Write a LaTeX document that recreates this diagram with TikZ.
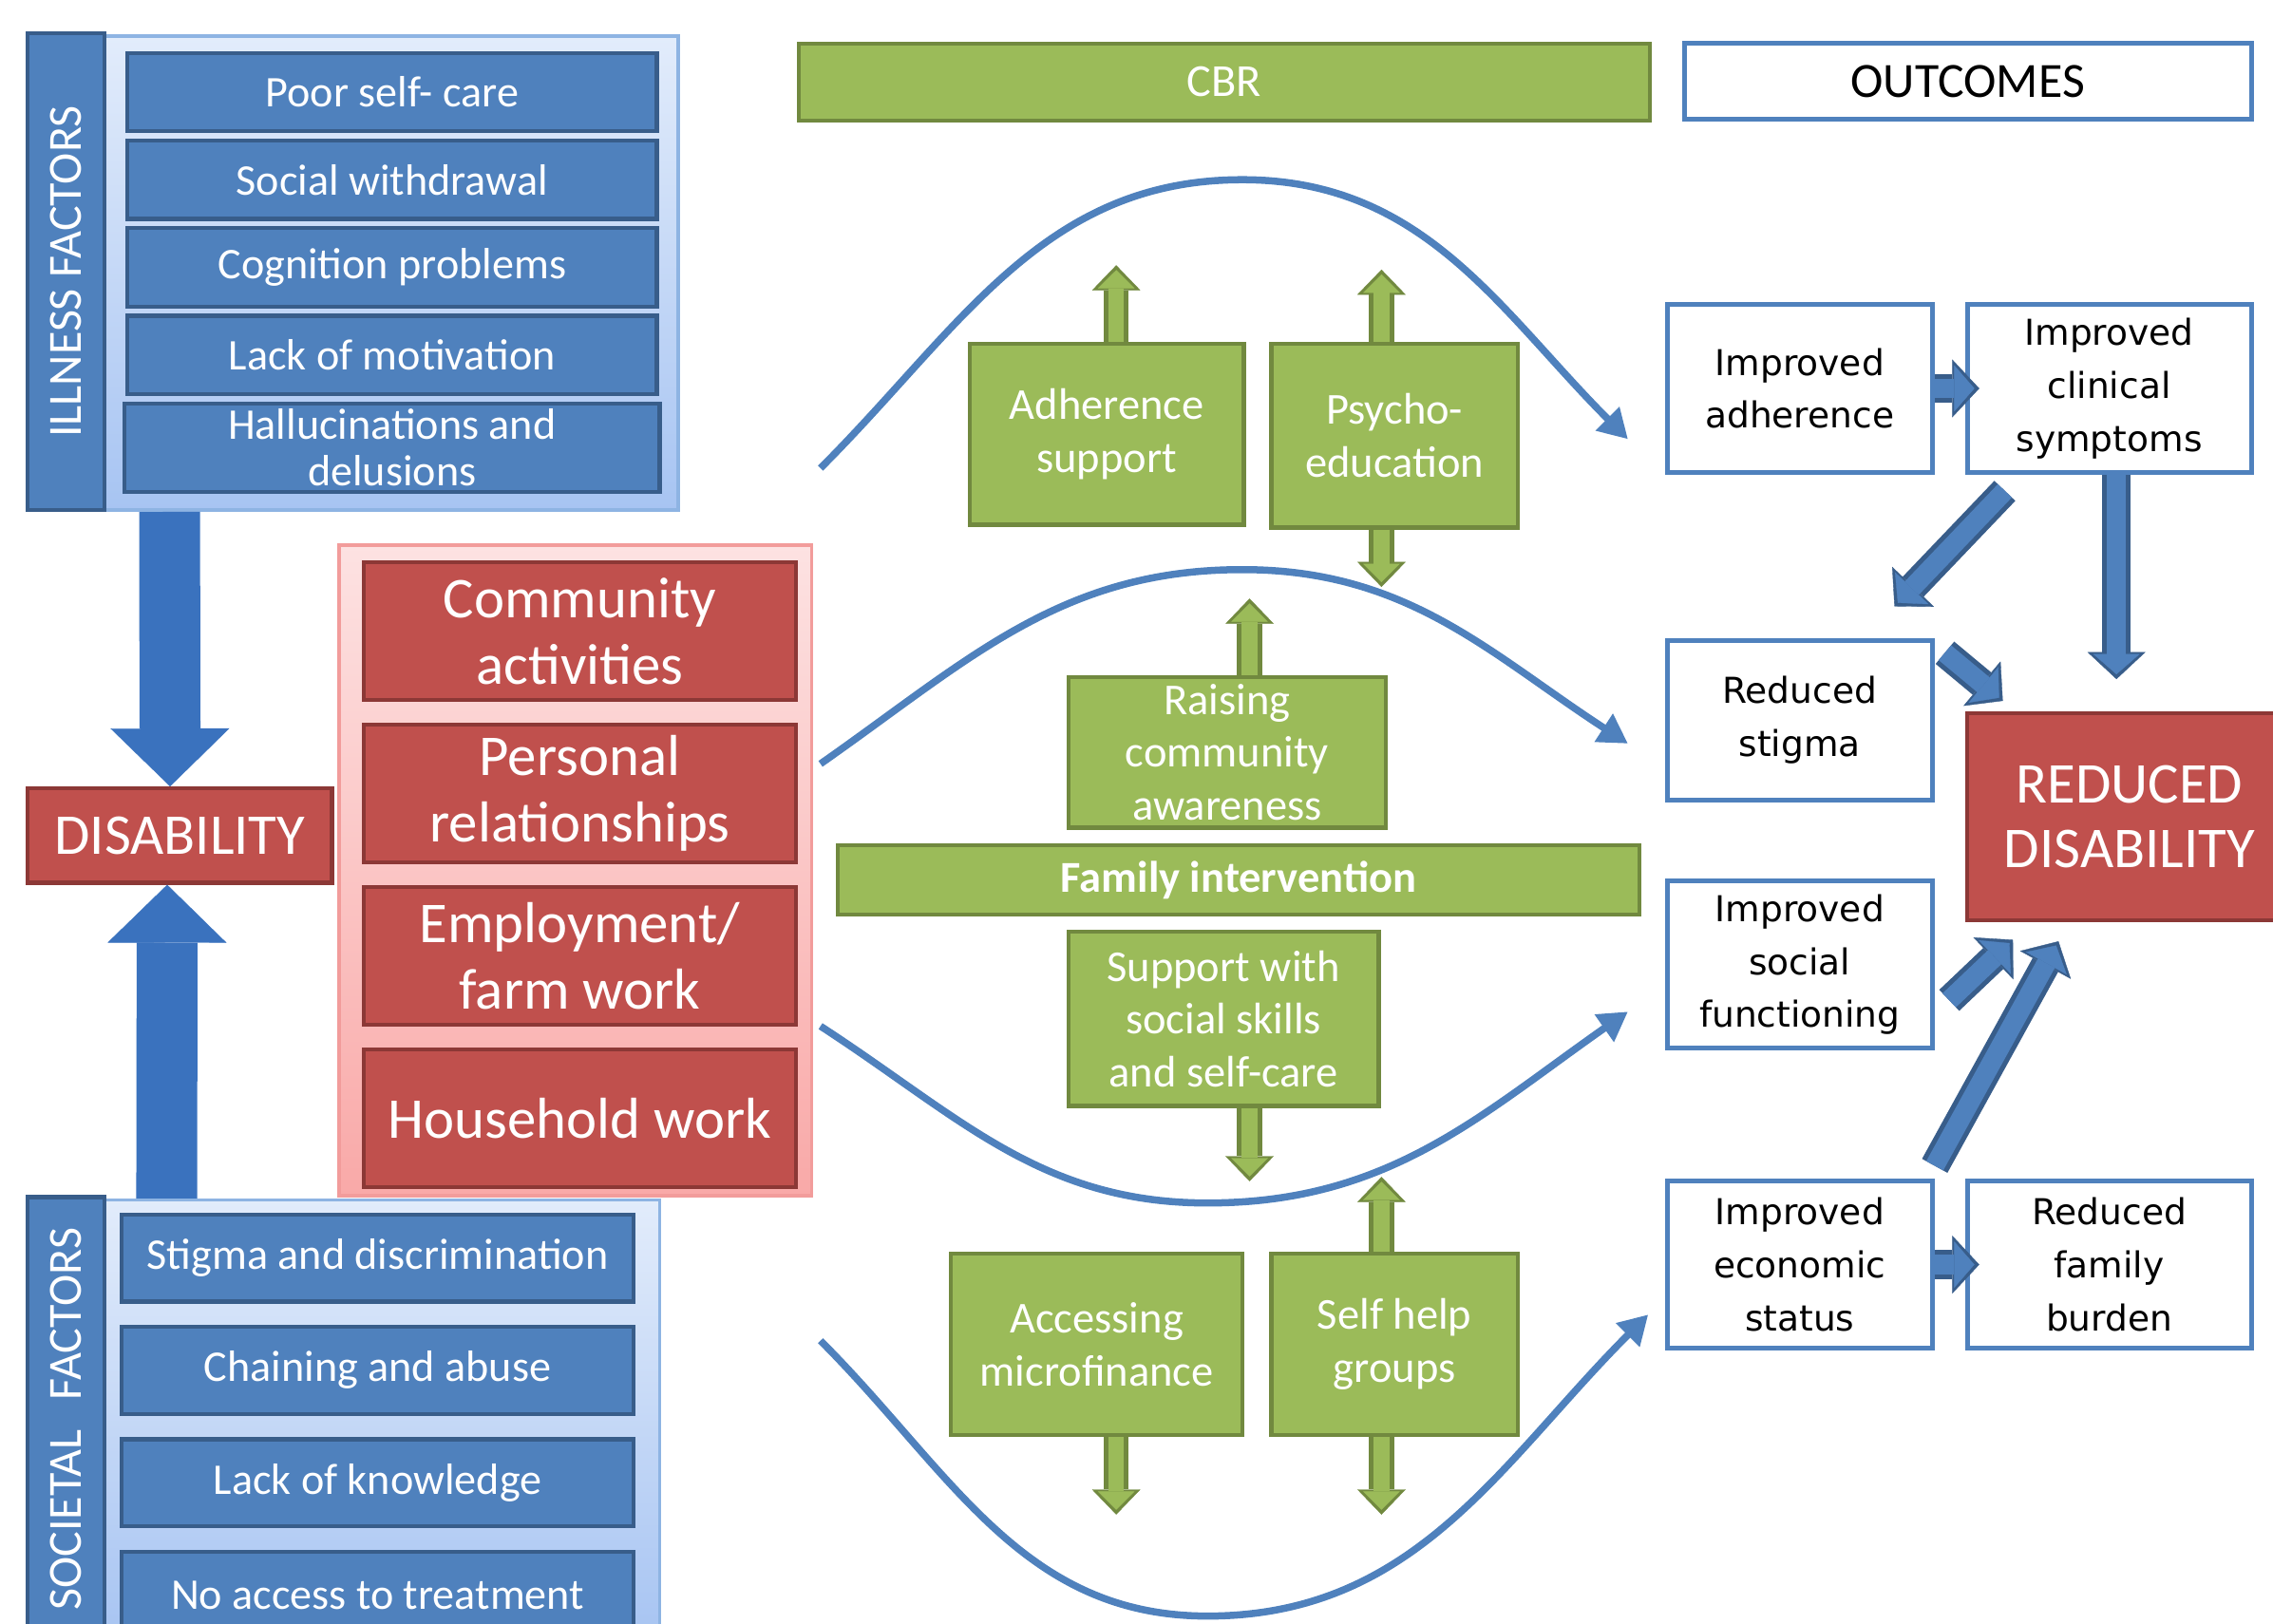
\documentclass[tikz,border=0pt]{standalone}
\usepackage{fontspec}
\setmainfont{Carlito}
\newfontfamily\outfont{DejaVu Sans}
\usetikzlibrary{positioning,arrows.meta}

\definecolor{bluefill}{HTML}{4F81BD}
\definecolor{blueline}{HTML}{385D8A}
\definecolor{redfill}{HTML}{C0504D}
\definecolor{redline}{HTML}{8C3836}
\definecolor{greenfill}{HTML}{9BBB59}
\definecolor{greenline}{HTML}{71893F}
\definecolor{paneltop}{HTML}{E2ECFB}
\definecolor{panelbottom}{HTML}{A7C4F2}
\definecolor{panelline}{HTML}{8EB4E3}
\definecolor{pinktop}{HTML}{FDE2E2}
\definecolor{pinkbottom}{HTML}{F9A9A8}
\definecolor{pinkline}{HTML}{F29C9B}
\definecolor{bigblue}{HTML}{3A72BE}

\begin{document}
\begin{tikzpicture}
		[x=0.015cm,y=0.015cm,
		panel/.style={rectangle,draw=panelline,line width=1pt,top color=paneltop,bottom color=panelbottom},
		sidebar/.style={rectangle,draw=blueline,fill=bluefill,line width=1.2pt,text=white,rotate=90,inner sep=0pt,minimum height=0.795cm,font=\fontsize{14}{16}\selectfont},
		factor/.style={rectangle,draw=blueline,fill=bluefill,line width=1.2pt,text=white,align=center,inner sep=0pt,minimum width=5.475cm,minimum height=0.81cm,font=\fontsize{12.9}{15.4}\selectfont},
		societal/.style={factor,minimum width=5.295cm,minimum height=0.9cm},
		activity/.style={rectangle,draw=redline,fill=redfill,line width=1.2pt,text=white,align=center,inner sep=1pt,minimum width=4.47cm,minimum height=1.425cm,font=\fontsize{17}{19.6}\selectfont},
		intervention/.style={rectangle,draw=greenline,fill=greenfill,line width=1.2pt,text=white,align=center,inner sep=1pt,font=\fontsize{13}{15.6}\selectfont},
		outcome/.style={rectangle,draw=bluefill,fill=white,line width=1.4pt,align=center,inner sep=1pt,minimum width=2.745cm,font=\outfont\fontsize{10.5}{15.6}\selectfont},
		curve/.style={draw=bluefill,line width=2.1pt,-{Triangle[length=0.3cm,width=0.33cm]}},
		bigarrow/.style={draw=bigblue,line width=0.63cm,-{Triangle[length=0.6cm,width=1.23cm,line width=0.1pt]}},
		blockarrow/.style={draw=blueline,line width=0.3cm,-{Triangle[length=0.28cm,width=0.6cm,line width=0.1pt]},
			postaction={draw=bluefill,line width=0.2cm,shorten >=0.05cm,-{Triangle[length=0.21cm,width=0.48cm,line width=0.1pt]}}},
		garrow/.style={draw=greenline,line width=0.26cm,-{Triangle[length=0.26cm,width=0.5cm,line width=0.1pt]},
			postaction={draw=greenfill,line width=0.16cm,shorten >=0.05cm,-{Triangle[length=0.19cm,width=0.38cm,line width=0.1pt]}}}]

		\useasboundingbox (0,0) rectangle (1568,1120);
		\clip (0,0) rectangle (1568,1120);

		% illness factors
		\node [panel,minimum width=5.94cm,minimum height=4.905cm] (illpanel) at (270,931.5) {};
		\node [sidebar,minimum width=4.935cm] (illbar) at (45.5,932.5) {ILLNESS FACTORS};
		\node [factor] (b1) at (270.5,1056.5) {Poor self- care};
		\node [factor] (b2) [below=0.055cm of b1] {Social withdrawal};
		\node [factor] (b3) [below=0.055cm of b2] {Cognition problems};
		\node [factor] (b4) [below=0.055cm of b3] {Lack of motivation};
		\node [factor,minimum width=5.535cm,minimum height=0.915cm,font=\fontsize{12.9}{13.6}\selectfont] (b5) [below=0.055cm of b4] {Hallucinations and\\delusions};

		% societal factors
		\node [panel,minimum width=5.745cm,minimum height=4.56cm] (socpanel) at (263.5,140) {};
		\node [sidebar,minimum width=4.59cm] (socbar) at (45.5,141) {SOCIETAL\hspace{0.4em} FACTORS};
		\node [societal] (s1) at (260.5,252) {Stigma and discrimination};
		\node [societal] (s2) [below=0.22cm of s1] {Chaining and abuse};
		\node [societal] (s3) [below=0.22cm of s2] {Lack of knowledge};
		\node [societal] (s4) [below=0.22cm of s3] {No access to treatment};

		% disability
		\node [activity,minimum width=3.15cm,minimum height=0.975cm] (dis) at (124,543.5) {DISABILITY};
		\draw [bigarrow] (illpanel.south -| dis.north) ++(-7,0) -- ([xshift=-0.1cm]dis.north);
		\draw [bigarrow] (socpanel.north -| dis.south) ++(-9,0) -- ([xshift=-0.13cm]dis.south);

		% activities
		\node [panel,draw=pinkline,top color=pinktop,bottom color=pinkbottom,minimum width=4.89cm,minimum height=6.735cm] (actpanel) at (397,519.5) {};
		\node [activity] (r1) at (400,684.5) {Community\\activities};
		\node [activity] (r2) [below=0.213cm of r1] {Personal\\relationships};
		\node [activity] (r3) [below=0.213cm of r2] {Employment/\\farm work};
		\node [activity] (r4) [below=0.213cm of r3] {Household work};

		% CBR
		\node [intervention,minimum width=8.805cm,minimum height=0.795cm,font=\fontsize{13.5}{16}\selectfont] (cbr) at (844.5,1063.5) {CBR};
		\node [intervention,minimum width=2.835cm,minimum height=1.875cm] (adh) at (763.5,820.5) {Adherence\\support};
		\node [intervention,minimum width=2.55cm,minimum height=1.905cm] (psy) at (962,819.5) {Psycho-\\education};
		\node [intervention,minimum width=3.285cm,minimum height=1.56cm] (raise) at (846.5,601) {Raising\\community\\awareness};
		\node [intervention,minimum width=8.295cm,minimum height=0.72cm,font=\bfseries\fontsize{13}{15.6}\selectfont] (fam) at (854.5,513) {Family intervention};
		\node [intervention,minimum width=3.21cm,minimum height=1.8cm] (sup) at (844,417) {Support with\\social skills\\and self-care};
		\node [intervention,minimum width=3.015cm,minimum height=1.875cm] (micro) at (756.5,192.5) {Accessing\\microfinance};
		\node [intervention,minimum width=2.55cm,minimum height=1.875cm] (shg) at (962,192.5) {Self help\\groups};

		\coordinate (adhup) at (770,937);
		\coordinate (psyup) at (953,934);
		\coordinate (psydown) at (953,715);
		\coordinate (raiseup) at (862,707);
		\coordinate (supdown) at (862,305);
		\coordinate (microdown) at (770,75);
		\coordinate (shgup) at (953,308);
		\coordinate (shgdown) at (953,75);
		\draw [garrow] (adh.north -| adhup) -- (adhup);
		\draw [garrow] (psy.north -| psyup) -- (psyup);
		\draw [garrow] (psy.south -| psydown) -- (psydown);
		\draw [garrow] (raise.north -| raiseup) -- (raiseup);
		\draw [garrow] (sup.south -| supdown) -- (supdown);
		\draw [garrow] (micro.south -| microdown) -- (microdown);
		\draw [garrow] (shg.north -| shgup) -- (shgup);
		\draw [garrow] (shg.south -| shgdown) -- (shgdown);

		% curves
		\coordinate (c1s) at (566,797); \coordinate (c1m) at (857,996); \coordinate (c1e) at (1123,817);
		\coordinate (c2s) at (566,593); \coordinate (c2m) at (857,727); \coordinate (c2e) at (1123,607);
		\coordinate (c3s) at (566,412); \coordinate (c3m) at (833,290); \coordinate (c3e) at (1123,422);
		\coordinate (c4s) at (566,195); \coordinate (c4m) at (833,5); \coordinate (c4e) at (1137,213);
		\draw [curve] (c1s) to[out=45,in=180] (c1m) to[out=0,in=135] (c1e);
		\draw [curve] (c2s) to[out=35,in=180] (c2m) to[out=0,in=147] (c2e);
		\draw [curve] (c3s) to[out=-33,in=180] (c3m) to[out=0,in=-145] (c3e);
		\draw [curve] (c4s) to[out=-45,in=180] (c4m) to[out=0,in=-135] (c4e);

		% outcomes
		\node [outcome,minimum width=5.865cm,minimum height=0.78cm,font=\fontsize{14.5}{17}\selectfont] (outc) at (1357.5,1064) {OUTCOMES};
		\node [outcome,minimum height=1.74cm] (oadh) at (1241.5,852) {Improved\\adherence};
		\node [outcome,minimum width=2.94cm,minimum height=1.74cm] (oclin) at (1455,852) {Improved\\clinical\\symptoms};
		\node [outcome,minimum height=1.65cm] (ostig) at (1241.5,623) {Reduced\\stigma};
		\node [outcome,minimum height=1.725cm] (osoc) at (1241.5,454.5) {Improved\\social\\functioning};
		\node [outcome,minimum height=1.725cm] (oecon) at (1241.5,247.5) {Improved\\economic\\status};
		\node [outcome,minimum width=2.94cm,minimum height=1.725cm] (oburd) at (1455,247.5) {Reduced\\family\\burden};
		\node [activity,minimum width=3.36cm,minimum height=2.145cm,font=\fontsize{17}{19.2}\selectfont] (rd) at (1469,556.5) {REDUCED\\DISABILITY};

		\draw [blockarrow] (oadh.east) -- ([xshift=0.15cm]oclin.west);
		\draw [blockarrow] ([xshift=-1.08cm,yshift=-0.165cm]oclin.south) -- ([xshift=0.98cm,yshift=0.33cm]ostig.north);
		\draw [blockarrow] ([xshift=0.075cm]oclin.south) -- ([xshift=-0.135cm,yshift=0.33cm]rd.north);
		\draw [blockarrow] ([xshift=0.105cm,yshift=-0.15cm]ostig.north east) -- ([xshift=0.39cm,yshift=0.105cm]rd.north west);
		\draw [blockarrow] ([xshift=0.15cm,yshift=-0.37cm]osoc.east) -- ([xshift=0.495cm,yshift=-0.18cm]rd.south west);
		\draw [blockarrow] ([yshift=0.135cm]oecon.north east) -- ([xshift=-0.735cm,yshift=-0.195cm]rd.south);
		\draw [blockarrow] (oecon.east) -- ([xshift=0.15cm]oburd.west);

	\end{tikzpicture}
\end{document}
